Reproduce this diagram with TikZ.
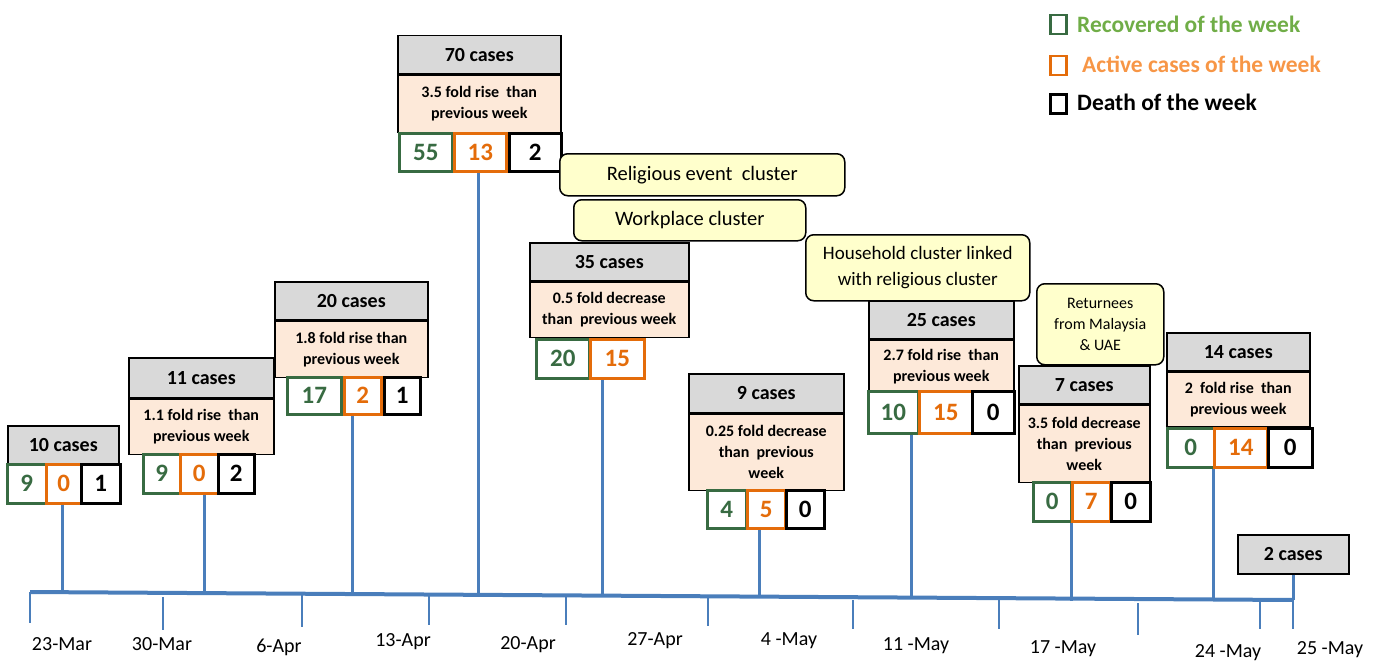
\documentclass[tikz,border=0pt]{standalone}
\usepackage{fontspec}
\setmainfont{Carlito}

\definecolor{hdrgray}{RGB}{217,217,217}
\definecolor{foldpeach}{RGB}{253,233,217}
\definecolor{clusteryellow}{RGB}{255,255,204}
\definecolor{recgreen}{RGB}{56,107,66}
\definecolor{actorange}{RGB}{228,108,10}
\definecolor{legendgreen}{RGB}{112,173,71}
\definecolor{legendorange}{RGB}{247,150,70}
\definecolor{axisblue}{RGB}{74,126,187}

\tikzset{
  hdr/.style={draw, line width=1.5pt, fill=hdrgray, anchor=north west, inner sep=0pt,
    minimum height=38pt, font=\fontsize{20}{24}\selectfont\bfseries},
  fold/.style={draw, line width=1.5pt, fill=foldpeach, anchor=north west, inner sep=0pt,
    align=center, font=\fontsize{16}{21}\selectfont\bfseries},
  numbox/.style={draw, line width=2.5pt, fill=white, anchor=north west, inner sep=0pt,
    minimum height=39pt, font=\fontsize{25}{30}\selectfont\bfseries},
  rec/.style={numbox, draw=recgreen, text=recgreen},
  act/.style={numbox, draw=actorange, text=actorange},
  dth/.style={numbox, draw=black},
  cluster/.style={draw, line width=1.5pt, fill=clusteryellow, rounded corners=8pt,
    anchor=north west, inner sep=0pt, align=center, font=\fontsize{20.5}{26}\selectfont},
  legbox/.style={line width=2.5pt, anchor=north west, inner sep=0pt,
    minimum width=16pt, minimum height=19pt},
  legtext/.style={anchor=west, inner sep=0pt, font=\fontsize{23.5}{28}\selectfont\bfseries},
  stem/.style={line width=3pt, draw=axisblue},
  daytick/.style={line width=2.5pt, draw=axisblue},
  datelbl/.style={inner sep=0pt, font=\fontsize{20}{24}\selectfont},
}

\begin{document}
\begin{tikzpicture}[x=1pt,y=-1pt]
\useasboundingbox (0,0) rectangle (1379,661);

% time axis
\coordinate (axL) at (30,592);
\coordinate (axR) at (1293,600);
\draw[line width=4pt, axisblue] (axL) -- (axR);

\foreach \x/\ya/\yb in {30/592/623, 163/597/630, 302/595/627, 429/596/625, 566/597/625,
    708/597/626, 853/600/629, 999/600/629, 1138/603/635, 1260/600/629, 1293/600/629} {
  \draw[daytick] (\x,\ya) -- (\x,\yb);
}

\foreach \x/\y/\d [count=\i] in {62/644/23-Mar, 162/644/30-Mar, 279/647/6-Apr, 403/642/13-Apr,
    528/645/20-Apr, 655/641/27-Apr, 789/641/4 -May, 916/646/11 -May, 1063/649/17 -May,
    1228/653/24 -May, 1330/650/25 -May} {
  \node[datelbl] (d\i) at (\x,\y) {\d};
}

% where the weeks meet the axis
\coordinate (w1) at (62,592.2);
\coordinate (w2) at (204,593.1);
\coordinate (w3) at (352,594.0);
\coordinate (w4) at (478,594.8);
\coordinate (w5) at (602,595.6);
\coordinate (w6) at (759,596.6);
\coordinate (w7) at (911,597.6);
\coordinate (w8) at (1071,601);
\coordinate (w9) at (1213,599.5);
\coordinate (w10) at (1293,600);

% week 1
\node[hdr, minimum width=111pt] (h1) at (7,425) {10 cases};
\node[rec, minimum width=39pt] (r1) at (6,463) {9};
\node[act, minimum width=35pt] (a1) at (45,463) {0};
\node[dth, minimum width=39pt] (k1) at (80,463) {1};

% week 2
\node[hdr, minimum width=145pt, minimum height=40pt] (h2) at (128,357) {11 cases};
\node[fold, minimum width=145pt, minimum height=55pt] (f2) at (h2.south west) {1.1 fold rise~ than\\previous week};
\node[rec, minimum width=37pt] (r2) at (142,453) {9};
\node[act, minimum width=38pt] (a2) at (179,453) {0};
\node[dth, minimum width=36pt] (k2) at (217,453) {2};

% week 3
\node[hdr, minimum width=153pt] (h3) at (274,281) {20 cases};
\node[fold, minimum width=153pt, minimum height=56pt] (f3) at (h3.south west) {1.8 fold rise than\\previous week};
\node[rec, minimum width=54pt, minimum height=37pt] (r3) at (286,376) {17};
\node[act, minimum width=37pt, minimum height=37pt] (a3) at (343,376) {2};
\node[dth, minimum width=36pt, minimum height=37pt] (k3) at (383,376) {1};

% week 4
\node[hdr, minimum width=163pt] (h4) at (397,35) {70 cases};
\node[fold, minimum width=163pt, minimum height=57pt] (f4) at (h4.south west) {3.5 fold rise~ than\\previous week};
\node[rec, minimum width=53pt, minimum height=38pt] (r4) at (398,132) {55};
\node[act, minimum width=52pt, minimum height=38pt] (a4) at (453,132) {13};
\node[dth, minimum width=52pt, minimum height=38pt] (k4) at (508,132) {2};

% clusters
\node[cluster, minimum width=285pt, minimum height=42pt] (c1) at (559,153) {Religious event~ cluster};
\node[cluster, minimum width=232pt, minimum height=41pt] (c2) at (573,199) {Workplace cluster};
\node[cluster, minimum width=224pt, minimum height=66pt, font=\fontsize{19}{26}\selectfont] (c3) at (805,234) {Household cluster linked\\with religious cluster};
\node[cluster, minimum width=127pt, minimum height=81pt, font=\fontsize{16}{21}\selectfont] (c4) at (1036,283) {Returnees\\from Malaysia\\\& UAE};

% week 5
\node[hdr, minimum width=159pt] (h5) at (529,242) {35 cases};
\node[fold, minimum width=159pt, minimum height=55pt] (f5) at (h5.south west) {0.5 fold decrease\\than~ previous week};
\node[rec, minimum width=53pt] (r5) at (535,338) {20};
\node[act, minimum width=54pt] (a5) at (589,338) {15};

% week 6
\node[hdr, minimum width=155pt, minimum height=39pt] (h6) at (688,373) {9 cases};
\node[fold, minimum width=155pt, minimum height=76pt] (f6) at (h6.south west) {0.25 fold decrease\\than~ previous\\week};
\node[rec, minimum width=39pt, minimum height=38pt] (r6) at (706,489) {4};
\node[act, minimum width=38pt, minimum height=38pt] (a6) at (746,489) {5};
\node[dth, minimum width=38pt, minimum height=38pt] (k6) at (785,489) {0};

% week 7
\node[hdr, minimum width=145pt] (h7) at (868,300) {25 cases};
\node[fold, minimum width=145pt, minimum height=52pt] (f7) at (h7.south west) {2.7 fold rise~ than\\previous week};
\node[rec, minimum width=50pt, minimum height=42pt] (r7) at (867,390) {10};
\node[act, minimum width=53pt, minimum height=42pt] (a7) at (918,390) {15};
\node[dth, minimum width=42pt, minimum height=42pt] (k7) at (971,390) {0};

% week 8
\node[hdr, minimum width=131pt] (h8) at (1018,365) {7 cases};
\node[fold, minimum width=131pt, minimum height=77pt] (f8) at (h8.south west) {3.5 fold decrease\\than~ previous\\week};
\node[rec, minimum width=38pt] (r8) at (1032,481) {0};
\node[act, minimum width=38pt] (a8) at (1071,481) {7};
\node[dth, minimum width=39pt] (k8) at (1110,481) {0};

% week 9
\node[hdr, minimum width=143pt] (h9) at (1166,332) {14 cases};
\node[fold, minimum width=143pt, minimum height=54pt] (f9) at (h9.south west) {2~ fold rise~ than\\previous week};
\node[rec, minimum width=47pt] (r9) at (1166,427) {0};
\node[act, minimum width=53pt] (a9) at (1213,427) {14};
\node[dth, minimum width=44pt] (k9) at (1267,427) {0};

% week 10
\node[hdr, minimum width=111pt, minimum height=39pt] (h10) at (1237,534) {2 cases};

% stems down to the axis
\draw[stem] (a1.south -| w1) -- (w1);
\draw[stem] (a2.south -| w2) -- (w2);
\draw[stem] (a3.south -| w3) -- (w3);
\draw[stem] (a4.south -| w4) -- (w4);
\draw[stem] (a5.south -| w5) -- (w5);
\draw[stem] (a6.south -| w6) -- (w6);
\draw[stem] (r7.south -| w7) -- (w7);
\draw[stem] (a8.south -| w8) -- (w8);
\draw[stem] (a9.south -| w9) -- (w9);
\draw[stem] (h10.south -| w10) -- (w10);

% legend
\node[legbox, draw=recgreen] (lg1) at (1049,14) {};
\node[legbox, draw=actorange] (lg2) at (1049,55) {};
\node[legbox, draw=black] (lg3) at (1049,93) {};
\node[legtext, text=legendgreen] (lt1) at (1077,24) {Recovered of the week};
\node[legtext, text=legendorange] (lt2) at (1082,64) {Active cases of the week};
\node[legtext] (lt3) at (1077,102) {Death of the week};

\end{tikzpicture}
\end{document}
